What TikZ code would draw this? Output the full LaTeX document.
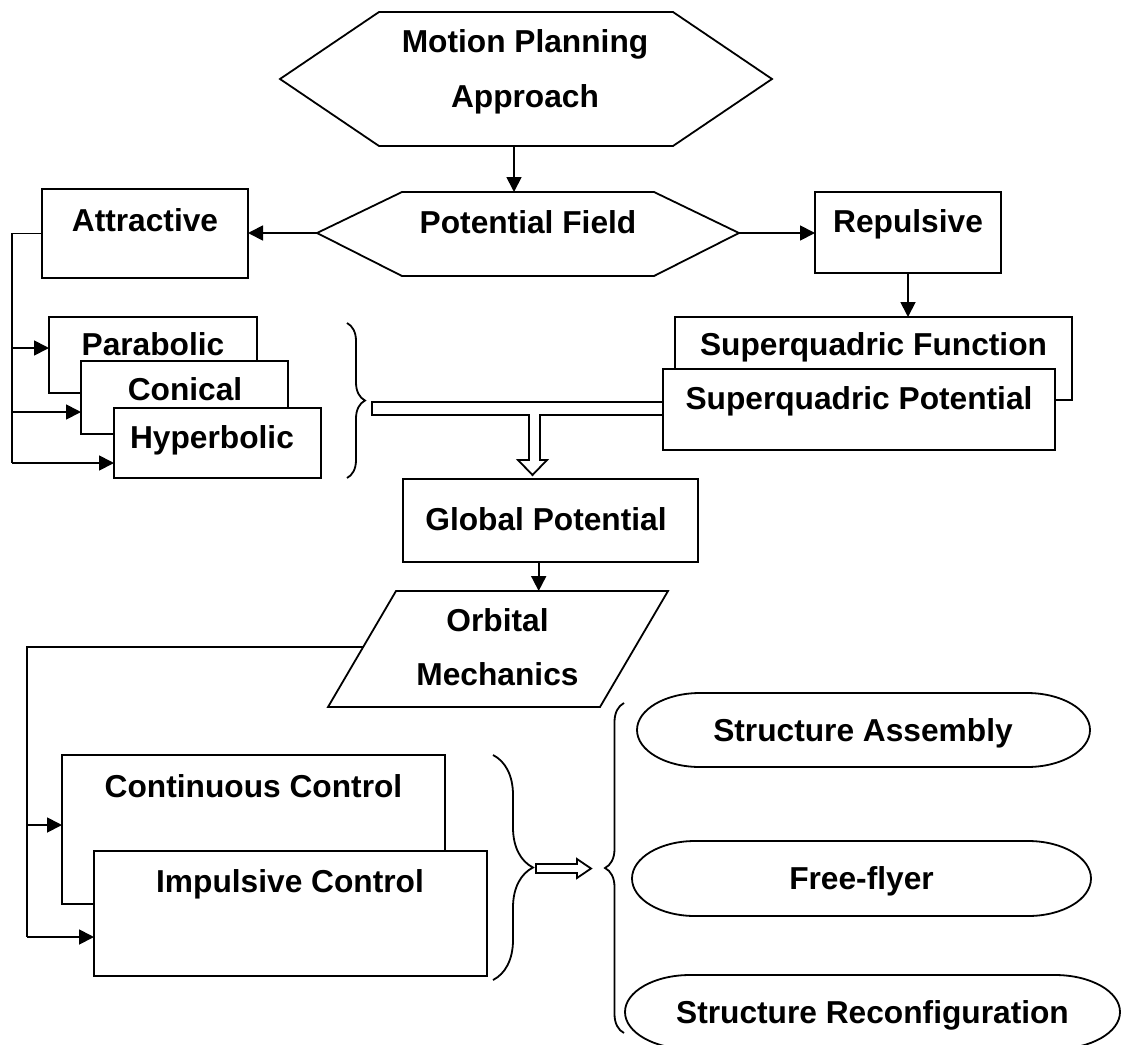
\documentclass[tikz,border=0pt]{standalone}
\usepackage{fontspec}
\setmainfont{Liberation Sans}
\usetikzlibrary{arrows.meta,decorations.pathreplacing,calc}
\begin{document}
\begin{tikzpicture}[x=1pt,y=-1pt,
  every node/.style={font=\fontsize{31.7pt}{38pt}\selectfont\bfseries, inner sep=0pt, outer sep=0pt},
  ln/.style={line width=1.8pt, line join=miter},
  box/.style={draw, fill=white, line width=1.8pt, anchor=north west},
  lbl/.style={anchor=base},
  two/.style={align=center, font=\fontsize{31.7pt}{#1}\selectfont\bfseries},
  arr/.style={line width=1.8pt, -{Triangle[length=15pt,width=15pt]}},
  br/.style={line width=1.8pt, decorate, decoration={brace, amplitude=#1}},
  hollow/.style={draw, fill=white, line width=1.8pt, line join=miter},
  term/.style={draw, fill=white, line width=1.8pt}
]
\useasboundingbox (0,0) rectangle (1124,1044);

% ---------- top hexagon ----------
\coordinate (mpL) at (280,79); \coordinate (mpR) at (772,79);
\coordinate (mpB) at (514,146);
\draw[hollow] (mpL) -- (379,12) -- (673,12) -- (mpR) -- (673,146) -- (379,146) -- cycle;
\node[two=55pt] (mp) at (525,71.5) {Motion Planning\\Approach};

% ---------- potential field hexagon ----------
\coordinate (pfL) at (317,233); \coordinate (pfR) at (739,233);
\coordinate (pfT) at (514,192);
\draw[hollow] (pfL) -- (402,192) -- (654,192) -- (pfR) -- (654,276) -- (402,276) -- cycle;
\node[lbl] (pf) at (528,233) {Potential Field};
\draw[arr] (mpB) -- (pfT);

% ---------- attractive / repulsive ----------
\node[box, minimum width=206pt, minimum height=89pt] (attr) at (42,189) {};
\node[lbl] (attrT) at (145,231) {Attractive};
\node[box, minimum width=186pt, minimum height=81pt] (rep) at (815,192) {};
\node[lbl] (repT) at (908,232) {Repulsive};
\draw[arr] (pfL) -- (pfL -| attr.east);
\draw[arr] (pfR) -- (pfR -| rep.west);

% ---------- superquadric ----------
\node[box, minimum width=397pt, minimum height=83pt] (sqf) at (675,317) {};
\node[lbl] (sqfT) at (873.5,355) {Superquadric Function};
\node[box, minimum width=392pt, minimum height=81pt] (sqp) at (663,369) {};
\node[lbl] (sqpT) at (859,409) {Superquadric Potential};
\draw[arr] (rep.south) -- (rep.south |- sqf.north);

% ---------- attractive kinds ----------
\node[box, minimum width=208pt, minimum height=76pt] (para) at (49,317) {};
\node[lbl] (paraT) at (153,355) {Parabolic};
\node[box, minimum width=207pt, minimum height=73pt] (coni) at (81,361) {};
\node[lbl] (coniT) at (185,400) {Conical};
\node[box, minimum width=207pt, minimum height=70pt] (hyp) at (114,408) {};
\node[lbl] (hypT) at (212,448) {Hyperbolic};
\coordinate (trTop) at (12,233.5);
\coordinate (a1) at (12,348); \coordinate (a2) at (12,412); \coordinate (a3) at (12,463);
\draw[ln] (attr.west) -- (trTop) -- (a3);
\draw[arr] (a1) -- (a1 -| para.west);
\draw[arr] (a2) -- (a2 -| coni.west);
\draw[arr] (a3) -- (a3 -| hyp.west);

% ---------- brace + T arrow ----------
\draw[br=18pt] (347,323) -- (347,478);
\draw[hollow] (372,402) -- (663,402) -- (663,415) -- (540,415) -- (540,460) -- (547,460)
  -- (532.5,475) -- (518,460) -- (529,460) -- (529,415) -- (372,415) -- cycle;

% ---------- global potential ----------
\node[box, minimum width=295pt, minimum height=83pt] (glob) at (403,479) {};
\node[lbl] (globT) at (546,530) {Global Potential};

% ---------- orbital mechanics ----------
\coordinate (omTL) at (396,591);
\coordinate (omE) at (363,647);
\draw[hollow] (omTL) -- (668,591) -- (600,707) -- (328,707) -- cycle;
\node[two=54pt] (om) at (497.5,646.7) {Orbital\\Mechanics};
\coordinate (gs) at ($(glob.south west)!0.46!(glob.south east)$);
\draw[arr] (gs) -- (gs |- omTL);

% ---------- control boxes ----------
\node[box, minimum width=383pt, minimum height=149pt] (cont) at (62,755) {};
\node[lbl] (contT) at (253.5,797) {Continuous Control};
\node[box, minimum width=393pt, minimum height=125pt] (imp) at (94,851) {};
\node[lbl] (impT) at (290,892) {Impulsive Control};
\coordinate (b1) at (27,825); \coordinate (b2) at (27,937);
\draw[ln] (omE) -- (27,647) -- (b2);
\draw[arr] (b1) -- (b1 -| cont.west);
\draw[arr] (b2) -- (b2 -| imp.west);

% ---------- braces + arrow ----------
\draw[br=40pt] (493,755) -- (493,980);
\draw[hollow] (536,864) -- (577,864) -- (577,859) -- (591,868.5) -- (577,878) -- (577,873) -- (536,873) -- cycle;
\draw[br=19pt] (624,1033) -- (624,703);

% ---------- terminators ----------
\draw[term] (700,693) -- (1027,693) arc[start angle=90,end angle=-90,x radius=63pt,y radius=37pt]
  -- (700,767) arc[start angle=270,end angle=90,x radius=63pt,y radius=37pt] -- cycle;
\node[lbl] (sa) at (863,741) {Structure Assembly};
\draw[term] (695,841) -- (1028,841) arc[start angle=90,end angle=-90,x radius=63pt,y radius=37.5pt]
  -- (695,916) arc[start angle=270,end angle=90,x radius=63pt,y radius=37.5pt] -- cycle;
\node[lbl] (ff) at (861.5,889) {Free-flyer};
\draw[term] (690,975) -- (1055,975) arc[start angle=90,end angle=-90,x radius=65pt,y radius=37pt]
  -- (690,1049) arc[start angle=270,end angle=90,x radius=65pt,y radius=37pt] -- cycle;
\node[lbl] (sr) at (872.5,1023) {Structure Reconfiguration};
\end{tikzpicture}
\end{document}
